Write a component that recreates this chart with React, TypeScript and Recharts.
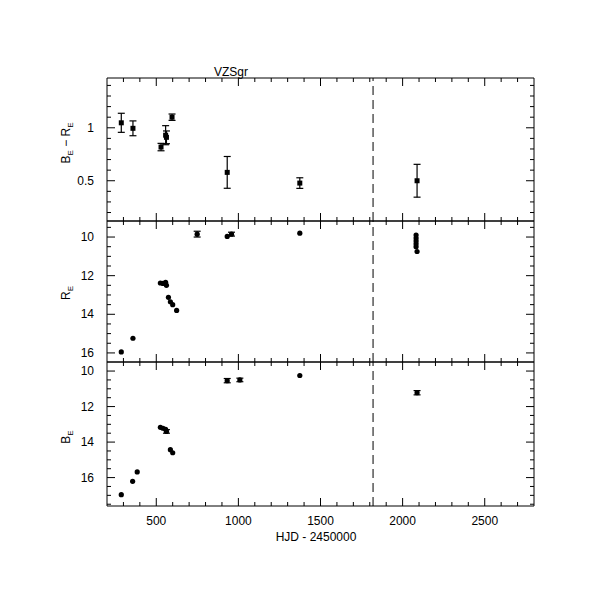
import { ScatterChart, Scatter, XAxis, YAxis, ErrorBar, ReferenceLine } from 'recharts';

// HJD - 2450000 for the colour index panel
const hjdColor = [287, 358, 529, 557, 562, 596, 932, 1374, 2088];
const colorIndex = [1.047, 0.995, 0.818, 0.93, 0.91, 1.1, 0.579, 0.478, 0.5];
const colorErr = [0.09, 0.07, 0.035, 0.09, 0.06, 0.03, 0.15, 0.05, 0.155];

// R_E magnitudes
const hjdR = [287, 358, 525, 541, 557, 562, 574, 586, 600, 624, 749, 932, 958, 1374, 2082, 2082, 2082, 2082, 2082, 2088];
const magR = [15.95, 15.24, 12.38, 12.4, 12.35, 12.5, 13.12, 13.35, 13.5, 13.8, 9.85, 9.97, 9.85, 9.8, 9.9, 10.05, 10.2, 10.35, 10.5, 10.75];
const errR = [0, 0, 0, 0, 0, 0, 0, 0, 0, 0, 0.15, 0, 0.1, 0, 0, 0, 0, 0, 0, 0];

// B_E magnitudes
const hjdB = [287, 356, 384, 525, 541, 557, 562, 586, 600, 932, 1009, 1374, 2088];
const magB = [16.96, 16.21, 15.68, 13.17, 13.22, 13.28, 13.4, 14.43, 14.6, 10.54, 10.5, 10.25, 11.22];
const errB = [0, 0, 0, 0, 0, 0, 0.1, 0, 0, 0.12, 0.1, 0, 0.12];

const gapHjd = 1820;

const xTicks = [300, 400, 500, 600, 700, 800, 900, 1000, 1100, 1200, 1300, 1400, 1500, 1600, 1700, 1800, 1900, 2000, 2100, 2200, 2300, 2400, 2500, 2600, 2700];
const xMajor = [500, 1000, 1500, 2000, 2500];
const colorTicks = [0.2, 0.3, 0.4, 0.5, 0.6, 0.7, 0.8, 0.9, 1.0, 1.1, 1.2, 1.3, 1.4];
const colorMajor = [0.5, 1];
const rTicks = [9.5, 10, 10.5, 11, 11.5, 12, 12.5, 13, 13.5, 14, 14.5, 15, 15.5, 16];
const bTicks = [10, 10.5, 11, 11.5, 12, 12.5, 13, 13.5, 14, 14.5, 15, 15.5, 16, 16.5, 17, 17.5];
const magMajor = [10, 12, 14, 16];

const toRows = (xs: number[], ys: number[], es: number[]) =>
  xs.map((x, i) => ({ x, y: ys[i], err: es[i] }));

const FONT = '"Liberation Sans", Arial, sans-serif';

function AxisTick(props: any) {
  const { x, y, payload, side, majors, labeled } = props;
  const v = payload.value;
  const major = majors.some((m: number) => Math.abs(m - v) < 1e-6);
  const len = major ? 8 : 4;
  let line;
  let label = null;
  if (side === 'bottom') {
    line = <line x1={x} y1={y} x2={x} y2={y - len} stroke="#000" />;
    if (labeled && major) label = <text x={x} y={y + 19} textAnchor="middle" fontSize={12} fontFamily={FONT}>{v}</text>;
  } else if (side === 'top') {
    line = <line x1={x} y1={y} x2={x} y2={y + len} stroke="#000" />;
  } else if (side === 'left') {
    line = <line x1={x} y1={y} x2={x + len} y2={y} stroke="#000" />;
    if (labeled && major) label = <text x={x - 13} y={y + 4} textAnchor="end" fontSize={12} fontFamily={FONT}>{v}</text>;
  } else {
    line = <line x1={x} y1={y} x2={x - len} y2={y} stroke="#000" />;
  }
  return <g>{line}{label}</g>;
}

const Dot = (p: any) => <rect x={p.cx - 2.5} y={p.cy - 2.5} width={5} height={5} fill="#000" />;
const Round = (p: any) => <circle cx={p.cx} cy={p.cy} r={2.6} fill="#000" />;

function Panel({ top, bottom, rows, domain, ticks, majors, reversed, showX, shape }: any) {
  return (
    <div style={{ position: 'absolute', left: 0, top: 0 }}>
      <ScatterChart width={611} height={611} margin={{ top: top - 1, right: 76, bottom: 611 - bottom - 1, left: 106 }}>
        <XAxis xAxisId="b" type="number" dataKey="x" domain={[200, 2800]} allowDataOverflow ticks={xTicks}
          height={1} tickSize={0} tickMargin={0} stroke="#000" interval={0}
          tick={(t: any) => <AxisTick {...t} side="bottom" majors={xMajor} labeled={showX} />} />
        <XAxis xAxisId="t" orientation="top" type="number" dataKey="x" domain={[200, 2800]} allowDataOverflow ticks={xTicks}
          height={1} tickSize={0} tickMargin={0} stroke="#000" interval={0}
          tick={(t: any) => <AxisTick {...t} side="top" majors={xMajor} />} />
        <YAxis yAxisId="l" type="number" dataKey="y" domain={domain} reversed={reversed} allowDataOverflow ticks={ticks}
          width={1} tickSize={0} tickMargin={0} stroke="#000" interval={0}
          tick={(t: any) => <AxisTick {...t} side="left" majors={majors} labeled />} />
        <YAxis yAxisId="r" orientation="right" type="number" dataKey="y" domain={domain} reversed={reversed} allowDataOverflow ticks={ticks}
          width={1} tickSize={0} tickMargin={0} stroke="#000" interval={0}
          tick={(t: any) => <AxisTick {...t} side="right" majors={majors} />} />
        <ReferenceLine xAxisId="b" yAxisId="l" x={gapHjd} stroke="#000" strokeDasharray="9 5" />
        <Scatter xAxisId="b" yAxisId="l" data={rows} shape={shape} isAnimationActive={false}>
          <ErrorBar dataKey="err" direction="y" width={3.5} stroke="#000" strokeWidth={1.2} />
        </Scatter>
      </ScatterChart>
    </div>
  );
}

export default function App() {
  return (
    <div style={{ position: 'absolute', left: 0, top: 0, width: 611, height: 611, background: '#fff' }}>
      <Panel top={78} bottom={221} rows={toRows(hjdColor, colorIndex, colorErr)} domain={[0.12, 1.47]}
        ticks={colorTicks} majors={colorMajor} reversed={false} showX={false} shape={Dot} />
      <Panel top={221} bottom={362} rows={toRows(hjdR, magR, errR)} domain={[9.17, 16.47]}
        ticks={rTicks} majors={magMajor} reversed showX={false} shape={Round} />
      <Panel top={362} bottom={506} rows={toRows(hjdB, magB, errB)} domain={[9.49, 17.6]}
        ticks={bTicks} majors={magMajor} reversed showX shape={Round} />
      <svg width={611} height={611} style={{ position: 'absolute', left: 0, top: 0 }} fontFamily={FONT}>
        <text x={231} y={76} textAnchor="middle" fontSize={12}>VZSgr</text>
        <text x={316} y={541} textAnchor="middle" fontSize={12}>HJD - 2450000</text>
        <text transform="translate(70,143) rotate(-90)" textAnchor="middle" fontSize={12}>
          B<tspan fontSize={8} dy={3}>E</tspan><tspan dy={-3}>  −  R</tspan><tspan fontSize={8} dy={3}>E</tspan>
        </text>
        <text transform="translate(70,293) rotate(-90)" textAnchor="middle" fontSize={12}>
          R<tspan fontSize={8} dy={3}>E</tspan>
        </text>
        <text transform="translate(70,437) rotate(-90)" textAnchor="middle" fontSize={12}>
          B<tspan fontSize={8} dy={3}>E</tspan>
        </text>
      </svg>
    </div>
  );
}
